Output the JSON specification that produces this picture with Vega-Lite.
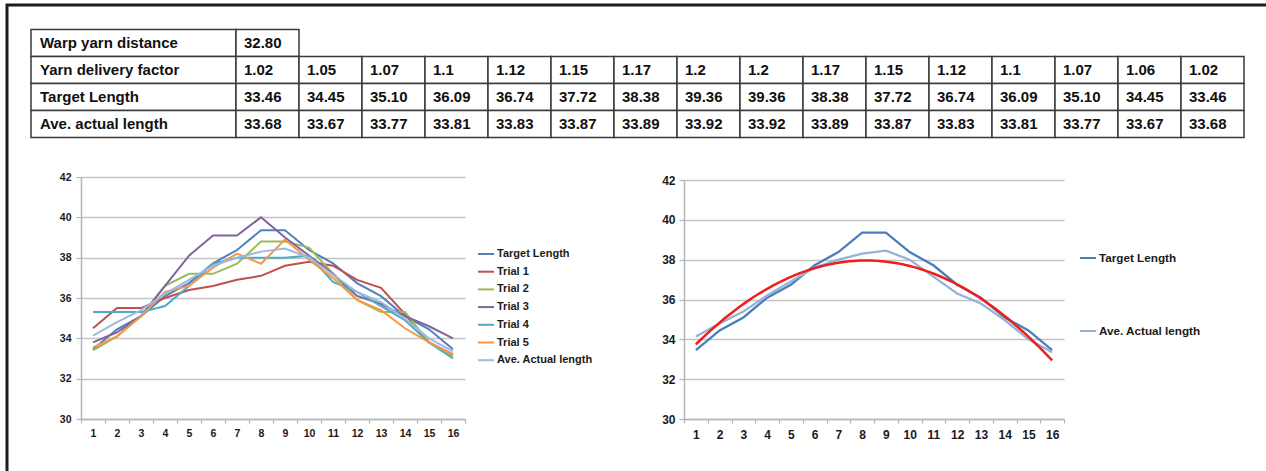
{
  "$schema": "https://vega.github.io/schema/vega-lite/v6.json",
  "width": 1262,
  "height": 469,
  "autosize": {"type": "none"},
  "padding": {"left": 7, "top": 5, "right": -3, "bottom": -3},
  "background": "white",
  "config": {
    "view": {"stroke": "#1c1c1c", "strokeWidth": 3, "fill": "white"},
    "font": "Liberation Sans",
    "axis": {
      "labelFont": "Liberation Sans",
      "labelFontWeight": "bold",
      "labelColor": "#1a1a1a",
      "domainColor": "#b4b4b4",
      "domainWidth": 1.5,
      "tickColor": "#b4b4b4",
      "tickWidth": 1.2,
      "gridColor": "#c4c4c4",
      "gridWidth": 1.6,
      "title": null,
      "labelOverlap": false,
      "labelFlush": false,
      "labelBound": false
    },
    "legend": {
      "labelFont": "Liberation Sans",
      "labelFontWeight": "bold",
      "labelColor": "#1a1a1a",
      "symbolType": "stroke",
      "symbolSize": 256,
      "symbolStrokeWidth": 2,
      "labelOffset": 2,
      "padding": 0,
      "title": null
    }
  },
  "datasets": {
    "tableLabels": [
      {"row": "Warp yarn distance", "col": "label"},
      {"row": "Yarn delivery factor", "col": "label"},
      {"row": "Target Length", "col": "label"},
      {"row": "Ave. actual length", "col": "label"}
    ],
    "tableCells": [
      {"row": "Warp yarn distance", "col": 1, "text": "32.80"},
      {"row": "Yarn delivery factor", "col": 1, "text": "1.02"},
      {"row": "Yarn delivery factor", "col": 2, "text": "1.05"},
      {"row": "Yarn delivery factor", "col": 3, "text": "1.07"},
      {"row": "Yarn delivery factor", "col": 4, "text": "1.1"},
      {"row": "Yarn delivery factor", "col": 5, "text": "1.12"},
      {"row": "Yarn delivery factor", "col": 6, "text": "1.15"},
      {"row": "Yarn delivery factor", "col": 7, "text": "1.17"},
      {"row": "Yarn delivery factor", "col": 8, "text": "1.2"},
      {"row": "Yarn delivery factor", "col": 9, "text": "1.2"},
      {"row": "Yarn delivery factor", "col": 10, "text": "1.17"},
      {"row": "Yarn delivery factor", "col": 11, "text": "1.15"},
      {"row": "Yarn delivery factor", "col": 12, "text": "1.12"},
      {"row": "Yarn delivery factor", "col": 13, "text": "1.1"},
      {"row": "Yarn delivery factor", "col": 14, "text": "1.07"},
      {"row": "Yarn delivery factor", "col": 15, "text": "1.06"},
      {"row": "Yarn delivery factor", "col": 16, "text": "1.02"},
      {"row": "Target Length", "col": 1, "text": "33.46"},
      {"row": "Target Length", "col": 2, "text": "34.45"},
      {"row": "Target Length", "col": 3, "text": "35.10"},
      {"row": "Target Length", "col": 4, "text": "36.09"},
      {"row": "Target Length", "col": 5, "text": "36.74"},
      {"row": "Target Length", "col": 6, "text": "37.72"},
      {"row": "Target Length", "col": 7, "text": "38.38"},
      {"row": "Target Length", "col": 8, "text": "39.36"},
      {"row": "Target Length", "col": 9, "text": "39.36"},
      {"row": "Target Length", "col": 10, "text": "38.38"},
      {"row": "Target Length", "col": 11, "text": "37.72"},
      {"row": "Target Length", "col": 12, "text": "36.74"},
      {"row": "Target Length", "col": 13, "text": "36.09"},
      {"row": "Target Length", "col": 14, "text": "35.10"},
      {"row": "Target Length", "col": 15, "text": "34.45"},
      {"row": "Target Length", "col": 16, "text": "33.46"},
      {"row": "Ave. actual length", "col": 1, "text": "33.68"},
      {"row": "Ave. actual length", "col": 2, "text": "33.67"},
      {"row": "Ave. actual length", "col": 3, "text": "33.77"},
      {"row": "Ave. actual length", "col": 4, "text": "33.81"},
      {"row": "Ave. actual length", "col": 5, "text": "33.83"},
      {"row": "Ave. actual length", "col": 6, "text": "33.87"},
      {"row": "Ave. actual length", "col": 7, "text": "33.89"},
      {"row": "Ave. actual length", "col": 8, "text": "33.92"},
      {"row": "Ave. actual length", "col": 9, "text": "33.92"},
      {"row": "Ave. actual length", "col": 10, "text": "33.89"},
      {"row": "Ave. actual length", "col": 11, "text": "33.87"},
      {"row": "Ave. actual length", "col": 12, "text": "33.83"},
      {"row": "Ave. actual length", "col": 13, "text": "33.81"},
      {"row": "Ave. actual length", "col": 14, "text": "33.77"},
      {"row": "Ave. actual length", "col": 15, "text": "33.67"},
      {"row": "Ave. actual length", "col": 16, "text": "33.68"}
    ],
    "lengths": [
      {"pos": 1, "series": "Target Length", "value": 33.46},
      {"pos": 2, "series": "Target Length", "value": 34.45},
      {"pos": 3, "series": "Target Length", "value": 35.10},
      {"pos": 4, "series": "Target Length", "value": 36.09},
      {"pos": 5, "series": "Target Length", "value": 36.74},
      {"pos": 6, "series": "Target Length", "value": 37.72},
      {"pos": 7, "series": "Target Length", "value": 38.38},
      {"pos": 8, "series": "Target Length", "value": 39.36},
      {"pos": 9, "series": "Target Length", "value": 39.36},
      {"pos": 10, "series": "Target Length", "value": 38.38},
      {"pos": 11, "series": "Target Length", "value": 37.72},
      {"pos": 12, "series": "Target Length", "value": 36.74},
      {"pos": 13, "series": "Target Length", "value": 36.09},
      {"pos": 14, "series": "Target Length", "value": 35.10},
      {"pos": 15, "series": "Target Length", "value": 34.45},
      {"pos": 16, "series": "Target Length", "value": 33.46},
      {"pos": 1, "series": "Trial 1", "value": 34.5},
      {"pos": 2, "series": "Trial 1", "value": 35.5},
      {"pos": 3, "series": "Trial 1", "value": 35.5},
      {"pos": 4, "series": "Trial 1", "value": 36.0},
      {"pos": 5, "series": "Trial 1", "value": 36.4},
      {"pos": 6, "series": "Trial 1", "value": 36.6},
      {"pos": 7, "series": "Trial 1", "value": 36.9},
      {"pos": 8, "series": "Trial 1", "value": 37.1},
      {"pos": 9, "series": "Trial 1", "value": 37.6},
      {"pos": 10, "series": "Trial 1", "value": 37.8},
      {"pos": 11, "series": "Trial 1", "value": 37.6},
      {"pos": 12, "series": "Trial 1", "value": 36.9},
      {"pos": 13, "series": "Trial 1", "value": 36.5},
      {"pos": 14, "series": "Trial 1", "value": 35.2},
      {"pos": 15, "series": "Trial 1", "value": 33.8},
      {"pos": 16, "series": "Trial 1", "value": 33.2},
      {"pos": 1, "series": "Trial 2", "value": 33.4},
      {"pos": 2, "series": "Trial 2", "value": 34.1},
      {"pos": 3, "series": "Trial 2", "value": 35.1},
      {"pos": 4, "series": "Trial 2", "value": 36.6},
      {"pos": 5, "series": "Trial 2", "value": 37.2},
      {"pos": 6, "series": "Trial 2", "value": 37.2},
      {"pos": 7, "series": "Trial 2", "value": 37.7},
      {"pos": 8, "series": "Trial 2", "value": 38.8},
      {"pos": 9, "series": "Trial 2", "value": 38.8},
      {"pos": 10, "series": "Trial 2", "value": 38.5},
      {"pos": 11, "series": "Trial 2", "value": 37.2},
      {"pos": 12, "series": "Trial 2", "value": 35.9},
      {"pos": 13, "series": "Trial 2", "value": 35.3},
      {"pos": 14, "series": "Trial 2", "value": 35.3},
      {"pos": 15, "series": "Trial 2", "value": 33.8},
      {"pos": 16, "series": "Trial 2", "value": 33.1},
      {"pos": 1, "series": "Trial 3", "value": 33.8},
      {"pos": 2, "series": "Trial 3", "value": 34.3},
      {"pos": 3, "series": "Trial 3", "value": 35.1},
      {"pos": 4, "series": "Trial 3", "value": 36.6},
      {"pos": 5, "series": "Trial 3", "value": 38.1},
      {"pos": 6, "series": "Trial 3", "value": 39.1},
      {"pos": 7, "series": "Trial 3", "value": 39.1},
      {"pos": 8, "series": "Trial 3", "value": 40.0},
      {"pos": 9, "series": "Trial 3", "value": 39.0},
      {"pos": 10, "series": "Trial 3", "value": 38.1},
      {"pos": 11, "series": "Trial 3", "value": 37.2},
      {"pos": 12, "series": "Trial 3", "value": 36.1},
      {"pos": 13, "series": "Trial 3", "value": 35.7},
      {"pos": 14, "series": "Trial 3", "value": 35.1},
      {"pos": 15, "series": "Trial 3", "value": 34.6},
      {"pos": 16, "series": "Trial 3", "value": 34.0},
      {"pos": 1, "series": "Trial 4", "value": 35.3},
      {"pos": 2, "series": "Trial 4", "value": 35.3},
      {"pos": 3, "series": "Trial 4", "value": 35.3},
      {"pos": 4, "series": "Trial 4", "value": 35.6},
      {"pos": 5, "series": "Trial 4", "value": 36.6},
      {"pos": 6, "series": "Trial 4", "value": 37.7},
      {"pos": 7, "series": "Trial 4", "value": 38.0},
      {"pos": 8, "series": "Trial 4", "value": 38.0},
      {"pos": 9, "series": "Trial 4", "value": 38.0},
      {"pos": 10, "series": "Trial 4", "value": 38.1},
      {"pos": 11, "series": "Trial 4", "value": 36.8},
      {"pos": 12, "series": "Trial 4", "value": 36.3},
      {"pos": 13, "series": "Trial 4", "value": 35.6},
      {"pos": 14, "series": "Trial 4", "value": 34.9},
      {"pos": 15, "series": "Trial 4", "value": 33.8},
      {"pos": 16, "series": "Trial 4", "value": 33.0},
      {"pos": 1, "series": "Trial 5", "value": 33.55},
      {"pos": 2, "series": "Trial 5", "value": 34.1},
      {"pos": 3, "series": "Trial 5", "value": 35.1},
      {"pos": 4, "series": "Trial 5", "value": 36.3},
      {"pos": 5, "series": "Trial 5", "value": 36.6},
      {"pos": 6, "series": "Trial 5", "value": 37.5},
      {"pos": 7, "series": "Trial 5", "value": 38.2},
      {"pos": 8, "series": "Trial 5", "value": 37.7},
      {"pos": 9, "series": "Trial 5", "value": 38.9},
      {"pos": 10, "series": "Trial 5", "value": 37.9},
      {"pos": 11, "series": "Trial 5", "value": 37.0},
      {"pos": 12, "series": "Trial 5", "value": 35.9},
      {"pos": 13, "series": "Trial 5", "value": 35.4},
      {"pos": 14, "series": "Trial 5", "value": 34.5},
      {"pos": 15, "series": "Trial 5", "value": 33.8},
      {"pos": 16, "series": "Trial 5", "value": 33.2},
      {"pos": 1, "series": "Ave. Actual length", "value": 34.14},
      {"pos": 2, "series": "Ave. Actual length", "value": 34.8},
      {"pos": 3, "series": "Ave. Actual length", "value": 35.4},
      {"pos": 4, "series": "Ave. Actual length", "value": 36.2},
      {"pos": 5, "series": "Ave. Actual length", "value": 36.9},
      {"pos": 6, "series": "Ave. Actual length", "value": 37.6},
      {"pos": 7, "series": "Ave. Actual length", "value": 38.0},
      {"pos": 8, "series": "Ave. Actual length", "value": 38.3},
      {"pos": 9, "series": "Ave. Actual length", "value": 38.45},
      {"pos": 10, "series": "Ave. Actual length", "value": 38.0},
      {"pos": 11, "series": "Ave. Actual length", "value": 37.15},
      {"pos": 12, "series": "Ave. Actual length", "value": 36.3},
      {"pos": 13, "series": "Ave. Actual length", "value": 35.8},
      {"pos": 14, "series": "Ave. Actual length", "value": 34.97},
      {"pos": 15, "series": "Ave. Actual length", "value": 34.0},
      {"pos": 16, "series": "Ave. Actual length", "value": 33.35}
    ]
  },
  "layer": [
    {
      "layer": [
        {
          "data": {"name": "tableLabels"},
          "layer": [
            {
              "mark": {"type": "rect", "fill": "white", "stroke": "#3a3a3a", "strokeWidth": 1.5},
              "encoding": {
                "x": {"field": "col", "type": "nominal", "scale": {"type": "band", "range": [24, 229], "paddingInner": 0, "paddingOuter": 0}, "axis": null},
                "y": {"field": "row", "type": "nominal", "sort": null}
              }
            },
            {
              "mark": {"type": "text", "align": "left", "dx": 9, "fontSize": 15, "fontWeight": "bold", "color": "#111", "font": "Liberation Sans"},
              "encoding": {
                "x": {"field": "col", "type": "nominal", "bandPosition": 0},
                "y": {"field": "row", "type": "nominal", "sort": null},
                "text": {"field": "row"}
              }
            }
          ]
        },
        {
          "data": {"name": "tableCells"},
          "layer": [
            {
              "mark": {"type": "rect", "fill": "white", "stroke": "#3a3a3a", "strokeWidth": 1.5},
              "encoding": {
                "x": {"field": "col", "type": "ordinal", "scale": {"type": "band", "range": [229, 1237], "paddingInner": 0, "paddingOuter": 0}, "axis": null},
                "y": {"field": "row", "type": "nominal", "sort": null}
              }
            },
            {
              "mark": {"type": "text", "align": "left", "dx": 8, "fontSize": 15, "fontWeight": "bold", "color": "#111", "font": "Liberation Sans"},
              "encoding": {
                "x": {"field": "col", "type": "ordinal", "bandPosition": 0},
                "y": {"field": "row", "type": "nominal", "sort": null},
                "text": {"field": "text"}
              }
            }
          ]
        }
      ],
      "encoding": {
        "y": {"field": "row", "type": "nominal", "sort": null, "scale": {"type": "band", "domain": ["Warp yarn distance", "Yarn delivery factor", "Target Length", "Ave. actual length"], "range": [24.5, 132.5], "paddingInner": 0, "paddingOuter": 0}, "axis": null}
      },
      "resolve": {"scale": {"x": "independent"}}
    },
    {
      "data": {"name": "lengths"},
      "mark": {"type": "line", "strokeWidth": 2},
      "encoding": {
        "x": {
          "field": "pos", "type": "quantitative",
          "scale": {"domain": [0.5, 16.5], "range": [74, 458], "nice": false, "zero": false},
          "axis": {"orient": "bottom", "offset": -55, "values": [0.5, 1.5, 2.5, 3.5, 4.5, 5.5, 6.5, 7.5, 8.5, 9.5, 10.5, 11.5, 12.5, 13.5, 14.5, 15.5, 16.5], "labelExpr": "datum.value > 16 ? '' : '' + (datum.value + 0.5)", "labelOffset": 12, "tickSize": 4, "labelPadding": 5, "labelFontSize": 10.5, "grid": false}
        },
        "y": {
          "field": "value", "type": "quantitative",
          "scale": {"domain": [30, 42], "range": [414, 172], "nice": false, "zero": false},
          "axis": {"orient": "left", "offset": -74, "values": [30, 32, 34, 36, 38, 40, 42], "grid": true, "tickSize": 5, "labelPadding": 5, "labelFontSize": 10.5}
        },
        "color": {
          "field": "series", "type": "nominal",
          "scale": {"domain": ["Target Length", "Trial 1", "Trial 2", "Trial 3", "Trial 4", "Trial 5", "Ave. Actual length"], "range": ["#4f81bd", "#c0504d", "#9bbb59", "#8064a2", "#4bacc6", "#f79646", "#9db9df"]},
          "legend": {"orient": "none", "legendX": 470, "legendY": 240, "labelFontSize": 11, "rowPadding": 3.7}
        }
      }
    },
    {
      "layer": [
        {
          "data": {"name": "lengths"},
          "transform": [{"filter": "datum.series === 'Target Length' || datum.series === 'Ave. Actual length'"}],
          "mark": {"type": "line", "strokeWidth": 2.3},
          "encoding": {
            "color": {
              "field": "series", "type": "nominal",
              "scale": {"domain": ["Target Length", "Ave. Actual length"], "range": ["#4a7ebb", "#95b3d7"]},
              "legend": {"orient": "none", "legendX": 1072, "legendY": 244, "labelFontSize": 11.7, "rowPadding": 57}
            }
          }
        },
        {
          "data": {"name": "lengths"},
          "transform": [
            {"filter": "datum.series === 'Ave. Actual length'"},
            {"regression": "value", "on": "pos", "method": "poly", "order": 2, "extent": [1, 16]}
          ],
          "mark": {"type": "line", "color": "#f21c1c", "strokeWidth": 2.5}
        },
        {
          "data": {"values": [{"label": "y = -0.0832x² + 1.3599x + 32.414"}]},
          "mark": {"type": "text", "align": "center", "baseline": "middle", "fontSize": 11.5, "fontWeight": "bold", "color": "#111", "font": "Liberation Sans"},
          "encoding": {
            "x": {"datum": 16.5, "type": "quantitative"},
            "y": {"datum": 31, "type": "quantitative"},
            "text": {"field": "label"}
          }
        }
      ],
      "encoding": {
        "x": {
          "field": "pos", "type": "quantitative",
          "scale": {"domain": [0.5, 16.5], "range": [677, 1057], "nice": false, "zero": false},
          "axis": {"orient": "bottom", "offset": -55, "values": [0.5, 1.5, 2.5, 3.5, 4.5, 5.5, 6.5, 7.5, 8.5, 9.5, 10.5, 11.5, 12.5, 13.5, 14.5, 15.5, 16.5], "labelExpr": "datum.value > 16 ? '' : '' + (datum.value + 0.5)", "labelOffset": 11.875, "tickSize": 4, "labelPadding": 6, "labelFontSize": 12, "grid": false}
        },
        "y": {
          "field": "value", "type": "quantitative",
          "scale": {"domain": [30, 42], "range": [414, 175], "nice": false, "zero": false},
          "axis": {"orient": "left", "offset": -677, "values": [30, 32, 34, 36, 38, 40, 42], "grid": true, "tickSize": 5, "labelPadding": 4, "labelFontSize": 12}
        }
      }
    }
  ],
  "resolve": {"scale": {"x": "independent", "y": "independent", "color": "independent"}}
}
